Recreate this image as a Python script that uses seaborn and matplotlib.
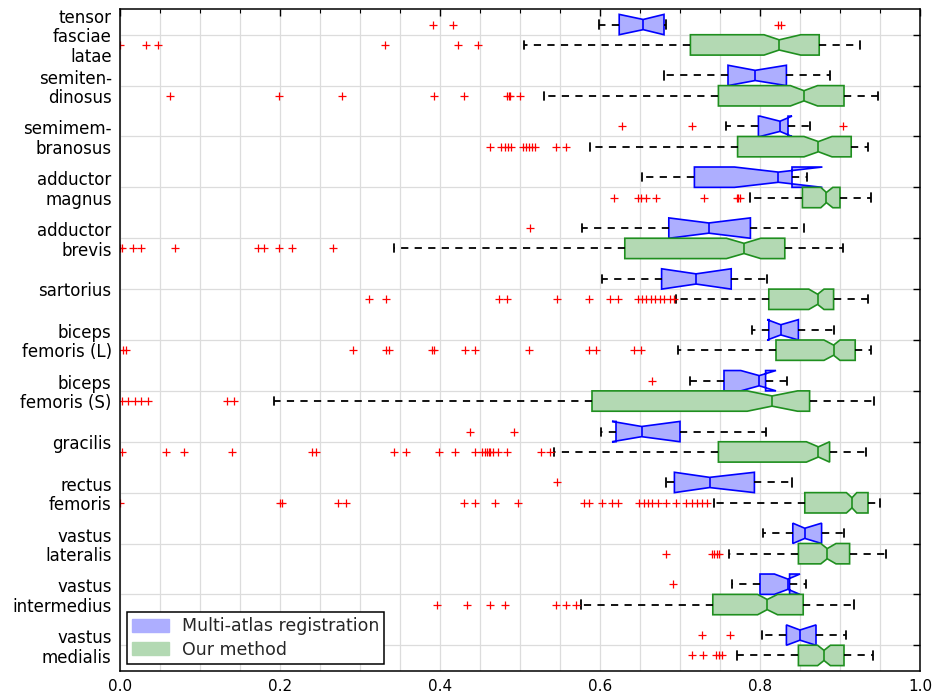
import numpy as np
import seaborn as sns
from matplotlib import pyplot as plt
from matplotlib.patches import Patch

muscles = ["tensor\nfasciae\nlatae", "semiten-\ndinosus", "semimem-\nbranosus",
           "adductor\nmagnus", "adductor\nbrevis", "sartorius", "biceps\nfemoris (L)",
           "biceps\nfemoris (S)", "gracilis", "rectus\nfemoris", "vastus\nlateralis",
           "vastus\nintermedius", "vastus\nmedialis"]

# Multi-atlas registration
mar_lo = [0.599, 0.680, 0.757, 0.653, 0.578, 0.602, 0.790, 0.713, 0.601, 0.683, 0.804, 0.765, 0.803]
mar_q1 = [0.624, 0.760, 0.798, 0.718, 0.686, 0.677, 0.811, 0.755, 0.620, 0.693, 0.841, 0.800, 0.833]
mar_med = [0.654, 0.794, 0.825, 0.823, 0.736, 0.720, 0.826, 0.799, 0.652, 0.737, 0.856, 0.835, 0.850]
mar_q3 = [0.680, 0.833, 0.835, 0.840, 0.788, 0.764, 0.848, 0.807, 0.700, 0.793, 0.877, 0.837, 0.870]
mar_hi = [0.683, 0.887, 0.862, 0.859, 0.855, 0.809, 0.893, 0.834, 0.807, 0.840, 0.905, 0.858, 0.908]
mar_cilo = [0.624, 0.760, 0.800, 0.768, 0.686, 0.677, 0.809, 0.776, 0.615, 0.693, 0.841, 0.818, 0.833]
mar_cihi = [0.680, 0.833, 0.840, 0.878, 0.788, 0.764, 0.848, 0.820, 0.700, 0.793, 0.877, 0.850, 0.870]
mar_fliers = [[0.391, 0.416, 0.822, 0.826], [], [0.627, 0.715, 0.904], [], [0.513], [], [],
              [0.665], [0.437, 0.493], [0.546], [], [0.691], [0.728, 0.763]]

# Our method
our_lo = [0.505, 0.530, 0.588, 0.788, 0.343, 0.695, 0.698, 0.192, 0.543, 0.743, 0.761, 0.576, 0.771]
our_q1 = [0.713, 0.748, 0.772, 0.853, 0.631, 0.811, 0.820, 0.590, 0.748, 0.856, 0.848, 0.741, 0.848]
our_med = [0.824, 0.855, 0.873, 0.883, 0.780, 0.872, 0.892, 0.815, 0.873, 0.915, 0.884, 0.809, 0.880]
our_q3 = [0.874, 0.905, 0.914, 0.900, 0.831, 0.892, 0.919, 0.862, 0.887, 0.935, 0.912, 0.854, 0.905]
our_hi = [0.925, 0.948, 0.935, 0.939, 0.904, 0.935, 0.939, 0.943, 0.933, 0.950, 0.957, 0.918, 0.941]
our_cilo = [0.805, 0.838, 0.855, 0.876, 0.758, 0.861, 0.880, 0.784, 0.858, 0.908, 0.876, 0.797, 0.872]
our_cihi = [0.851, 0.872, 0.890, 0.891, 0.801, 0.880, 0.900, 0.847, 0.887, 0.921, 0.895, 0.822, 0.888]
our_fliers = [
    [0.0, 0.032, 0.048, 0.331, 0.422, 0.448],
    [0.062, 0.199, 0.277, 0.393, 0.430, 0.484, 0.486, 0.487, 0.500],
    [0.463, 0.476, 0.481, 0.485, 0.489, 0.504, 0.507, 0.511, 0.515, 0.519, 0.545, 0.558],
    [0.617, 0.648, 0.651, 0.658, 0.670, 0.730, 0.771, 0.773, 0.775],
    [0.0, 0.003, 0.016, 0.026, 0.069, 0.173, 0.180, 0.199, 0.215, 0.266],
    [0.311, 0.332, 0.474, 0.484, 0.546, 0.586, 0.612, 0.623, 0.648, 0.653, 0.658, 0.664,
     0.669, 0.675, 0.680, 0.687, 0.693],
    [0.004, 0.007, 0.291, 0.332, 0.336, 0.390, 0.393, 0.431, 0.444, 0.511, 0.586, 0.595,
     0.642, 0.651],
    [0.002, 0.010, 0.019, 0.026, 0.035, 0.134, 0.143],
    [0.002, 0.058, 0.080, 0.140, 0.240, 0.245, 0.343, 0.358, 0.399, 0.419, 0.444, 0.452,
     0.456, 0.459, 0.461, 0.463, 0.466, 0.472, 0.484, 0.526, 0.537],
    [0.0, 0.200, 0.203, 0.272, 0.282, 0.430, 0.444, 0.469, 0.498, 0.580, 0.586, 0.603,
     0.615, 0.622, 0.649, 0.655, 0.660, 0.665, 0.672, 0.683, 0.695, 0.708, 0.715, 0.721,
     0.728, 0.734],
    [0.683, 0.740, 0.743, 0.746, 0.749],
    [0.396, 0.434, 0.463, 0.481, 0.545, 0.557, 0.570],
    [0.715, 0.729, 0.745, 0.749, 0.753],
]

series_names = ["Multi-atlas registration", "Our method"]
edge_colors = ["#0000ff", "#1f8f1f"]
face_colors = ["#adaeff", "#b3d9b3"]


def make_stats(lo, q1, med, q3, hi, cilo, cihi, fliers):
    stats = []
    for i in range(len(lo)):
        stats.append(dict(whislo=lo[i], q1=q1[i], med=med[i], q3=q3[i], whishi=hi[i],
                          cilo=cilo[i], cihi=cihi[i], fliers=np.array(fliers[i])))
    return stats


sns.set_style("white")
plt.rcParams['font.family'] = ['DejaVu Sans']

fig = plt.figure(figsize=(9.35, 6.96), dpi=100)
ax = fig.add_axes([120 / 935, 1 - 670.7 / 696, 800 / 935, 661.4 / 696])

pos = np.arange(1, len(muscles) + 1)
all_stats = [make_stats(mar_lo, mar_q1, mar_med, mar_q3, mar_hi, mar_cilo, mar_cihi, mar_fliers),
             make_stats(our_lo, our_q1, our_med, our_q3, our_hi, our_cilo, our_cihi, our_fliers)]

for k, (stats, offset) in enumerate(zip(all_stats, [-0.2, 0.2])):
    ax.bxp(stats, positions=pos + offset, widths=0.4, capwidths=0.16,
           orientation='horizontal', shownotches=True, patch_artist=True,
           manage_ticks=False,
           boxprops=dict(facecolor=face_colors[k], edgecolor=edge_colors[k], linewidth=1.2),
           medianprops=dict(color=edge_colors[k], linewidth=1.2),
           whiskerprops=dict(color='black', linestyle=(0, (4, 3.5)), linewidth=1.3),
           capprops=dict(color='black', linewidth=1.3),
           flierprops=dict(marker='+', markeredgecolor='red', markersize=6,
                           markeredgewidth=0.9, linestyle='none'))

ax.set_xlim(0, 1)
ax.set_ylim(len(muscles) + 0.5, 0.5)
ax.set_xticks(np.arange(0, 1.01, 0.2))
ax.set_xticklabels([f"{v:.1f}" for v in np.arange(0, 1.01, 0.2)])
ax.set_xticks(np.arange(0, 1.001, 0.05), minor=True)
ax.set_yticks(pos)
ax.set_yticklabels(muscles, fontsize=12, linespacing=1.1)

ax.grid(True, which='both', color='#dcdcdc', linewidth=0.9)
ax.set_axisbelow(True)
ax.tick_params(axis='both', which='major', direction='in', length=5, width=1,
               top=True, right=True, colors='black')
ax.tick_params(axis='x', labelsize=11, pad=6)
ax.tick_params(axis='y', pad=6)
ax.tick_params(axis='x', which='minor', direction='in', length=3, width=0.8,
               top=True, colors='black')
for s in ax.spines.values():
    s.set_color('black')
    s.set_linewidth(1.1)

handles = [Patch(facecolor=face_colors[i], edgecolor=face_colors[i], label=series_names[i])
           for i in range(2)]
leg = ax.legend(handles=handles, loc='lower left', fontsize=12.5, fancybox=False,
                framealpha=1, edgecolor='black', handlelength=2.1, handleheight=0.8,
                handletextpad=0.75, borderaxespad=0.4, labelspacing=0.3,
                borderpad=0.3)
leg.get_frame().set_linewidth(1.1)

fig.savefig('out.png', dpi=100)
